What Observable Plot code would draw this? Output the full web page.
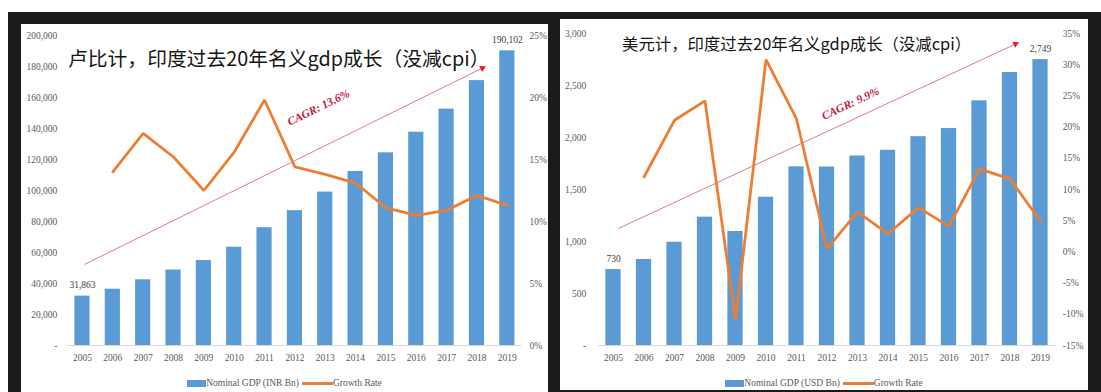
<!DOCTYPE html>
<html>
<head>
<meta charset="utf-8">
<script src="https://cdn.jsdelivr.net/npm/d3@7"></script>
<script src="https://cdn.jsdelivr.net/npm/@observablehq/plot@0.6"></script>
<style>
  html, body { margin: 0; padding: 0; background: #ffffff; }
  body { width: 1101px; height: 392px; position: relative; overflow: hidden; }
  #backdrop { position: absolute; left: 8px; top: 12px; width: 1093px; height: 380px; background: #1b1b1b; }
  .panel { position: absolute; background: #ffffff; overflow: hidden; }
  .panel svg { display: block; }
  .title { position: absolute; white-space: nowrap; line-height: 1; color: #151515;
           font-family: "Noto Sans CJK SC", "Noto Sans", sans-serif; }
  .legend { display: flex; justify-content: center; align-items: center; height: 26px;
            font-family: "Liberation Serif", serif; font-size: 9.5px; color: #595959; }
  .legend .bar { display: inline-block; width: 19px; height: 7px; background: #5B9BD5; }
  .legend .line { display: inline-block; width: 31px; height: 3px; background: #ED7D31; margin-left: 3px; }
</style>
</head>
<body>
<div id="backdrop"></div>
<div class="panel" id="inr" style="left:21px;top:24px;width:527px;height:368px;"></div>
<div class="panel" id="usd" style="left:560px;top:19px;width:528px;height:371px;"></div>
<script>
// Fiscal years on the category axis
const years = [2005, 2006, 2007, 2008, 2009, 2010, 2011, 2012, 2013, 2014, 2015, 2016, 2017, 2018, 2019];

// Nominal GDP in rupees (INR Bn) and its yearly growth (%)
const inrGdp = [31863, 36300, 42400, 48700, 54800, 63400, 76000, 87000, 99000, 112300, 124300, 137600, 152500, 170900, 190102];
const inrGrowth = [null, 14.0, 17.1, 15.2, 12.5, 15.6, 19.8, 14.4, 13.8, 13.1, 11.1, 10.5, 10.9, 12.1, 11.3];

// Nominal GDP in dollars (USD Bn) and its yearly growth (%)
const usdGdp = [730, 827, 993, 1234, 1096, 1426, 1718, 1716, 1822, 1877, 2008, 2086, 2353, 2625, 2749];
const usdGrowth = [null, 12.0, 21.1, 24.2, -11.0, 30.8, 21.3, 0.5, 6.4, 2.9, 7.1, 4.1, 13.3, 11.7, 4.9];

// Axis ticks: left (GDP) and right (growth %) for each chart
const inrTicks = [0, 20000, 40000, 60000, 80000, 100000, 120000, 140000, 160000, 180000, 200000];
const inrRateTicks = [0, 5, 10, 15, 20, 25];
const usdTicks = [0, 500, 1000, 1500, 2000, 2500, 3000];
const usdRateTicks = [-15, -10, -5, 0, 5, 10, 15, 20, 25, 30, 35];

// Titles and legend labels
const inrTitle = "卢比计，印度过去20年名义gdp成长（没减cpi）";
const usdTitle = "美元计，印度过去20年名义gdp成长（没减cpi）";
const inrLegend = ["Nominal GDP (INR Bn)", "Growth Rate"];
const usdLegend = ["Nominal GDP (USD Bn)", "Growth Rate"];

// CAGR trend arrows: start, end (in year / GDP units) and the label anchor
const inrCagr = {text: "CAGR: 13.6%", x1: 2005.07, y1: 52300, x2: 2018.18, y2: 179000, tx: 2012.78, ty: 153500};
const usdCagr = {text: "CAGR: 9.9%", x1: 2005.16, y1: 1125, x2: 2018.18, y2: 2899, tx: 2012.77, ty: 2327};

const BLUE = "#5B9BD5";
const ORANGE = "#ED7D31";
const xDomain = [2004.5, 2019.5];

function chart(cfg) {
  const {gdp, growth, ticks, rateTicks, gdpDomain, rateDomain, cagr, width, height,
         ml, mr, mt, mb, padL, padR} = cfg;
  // growth % is drawn against the GDP scale through a linear mapping
  const toGdp = d3.scaleLinear(rateDomain, gdpDomain);
  const bars = years.map((year, i) => ({year, value: gdp[i]}));
  const rates = years.map((year, i) => ({year, rate: growth[i]})).filter(d => d.rate != null);
  const ends = [bars[0], bars[bars.length - 1]];

  // pixel direction of the trend arrow, for the head and the label
  const sx = d3.scaleLinear(xDomain, [ml, width - mr]);
  const sy = d3.scaleLinear(gdpDomain, [height - mb, mt]);
  const dxp = sx(cagr.x2) - sx(cagr.x1);
  const dyp = sy(cagr.y1) - sy(cagr.y2);
  const headRotate = Math.atan2(dxp, dyp) * 180 / Math.PI;
  const slope = Math.atan2(dyp, dxp) * 180 / Math.PI;

  return Plot.plot({
    width, height,
    marginLeft: ml, marginRight: mr, marginTop: mt, marginBottom: mb,
    style: {fontFamily: "'Liberation Serif', serif", fontSize: "9.5px", color: "#595959",
            background: "transparent", overflow: "visible"},
    x: {domain: xDomain, axis: null},
    y: {domain: gdpDomain, axis: null},
    marks: [
      Plot.rectY(bars, {x1: d => d.year - 0.25, x2: d => d.year + 0.25, y: "value", fill: BLUE}),
      Plot.ruleY([0], {stroke: "#d9d9d9", strokeWidth: 1}),
      Plot.axisY(ticks, {anchor: "left", tickSize: 0, tickPadding: padL,
                         tickFormat: d => d === 0 ? "-" : d3.format(",")(d)}),
      Plot.axisY(rateTicks.map(r => toGdp(r)), {anchor: "right", tickSize: 0, tickPadding: padR,
                         tickFormat: v => Math.round(toGdp.invert(v)) + "%"}),
      Plot.axisX(years, {anchor: "bottom", tickSize: 0, tickPadding: 9, tickFormat: d => String(d)}),
      Plot.line(rates, {x: "year", y: d => toGdp(d.rate), stroke: ORANGE, strokeWidth: 2.75,
                        strokeLinejoin: "miter"}),
      Plot.text(ends, {x: "year", y: "value", text: d => d3.format(",")(d.value), dy: -11, fill: "#404040"}),
      Plot.link([cagr], {x1: "x1", y1: "y1", x2: "x2", y2: "y2", stroke: "#e0798a", strokeWidth: 1}),
      Plot.dot([cagr], {x: "x2", y: "y2", symbol: "triangle2", r: 3.2, fill: "#e3192f", rotate: headRotate}),
      Plot.text([cagr], {x: "tx", y: "ty", text: "text", rotate: -slope, fill: "#c8143a",
                         fontSize: 11.5, fontWeight: "bold", fontStyle: "italic"})
    ]
  });
}

function legend(labels) {
  const div = document.createElement("div");
  div.className = "legend";
  const bar = document.createElement("span"); bar.className = "bar";
  const t1 = document.createElement("span"); t1.textContent = labels[0];
  const line = document.createElement("span"); line.className = "line";
  const t2 = document.createElement("span"); t2.textContent = labels[1];
  div.append(bar, t1, line, t2);
  return div;
}

function title(text, left, top, size) {
  const div = document.createElement("div");
  div.className = "title";
  div.textContent = text;
  div.style.left = left + "px";
  div.style.top = top + "px";
  div.style.fontSize = size + "px";
  return div;
}

const inrPanel = document.getElementById("inr");
inrPanel.append(
  chart({gdp: inrGdp, growth: inrGrowth, ticks: inrTicks, rateTicks: inrRateTicks,
         gdpDomain: [0, 200000], rateDomain: [0, 25], cagr: inrCagr,
         width: 527, height: 346, ml: 45.8, mr: 26, mt: 11, mb: 25, padL: 10, padR: 7}),
  legend(inrLegend),
  title(inrTitle, 47, 24, 19.8)
);

const usdPanel = document.getElementById("usd");
usdPanel.append(
  chart({gdp: usdGdp, growth: usdGrowth, ticks: usdTicks, rateTicks: usdRateTicks,
         gdpDomain: [0, 3000], rateDomain: [-15, 35], cagr: usdCagr,
         width: 528, height: 351, ml: 37.75, mr: 32.75, mt: 14, mb: 25, padL: 12, padR: 7}),
  legend(usdLegend),
  title(usdTitle, 62, 16, 16.4)
);
</script>
</body>
</html>
